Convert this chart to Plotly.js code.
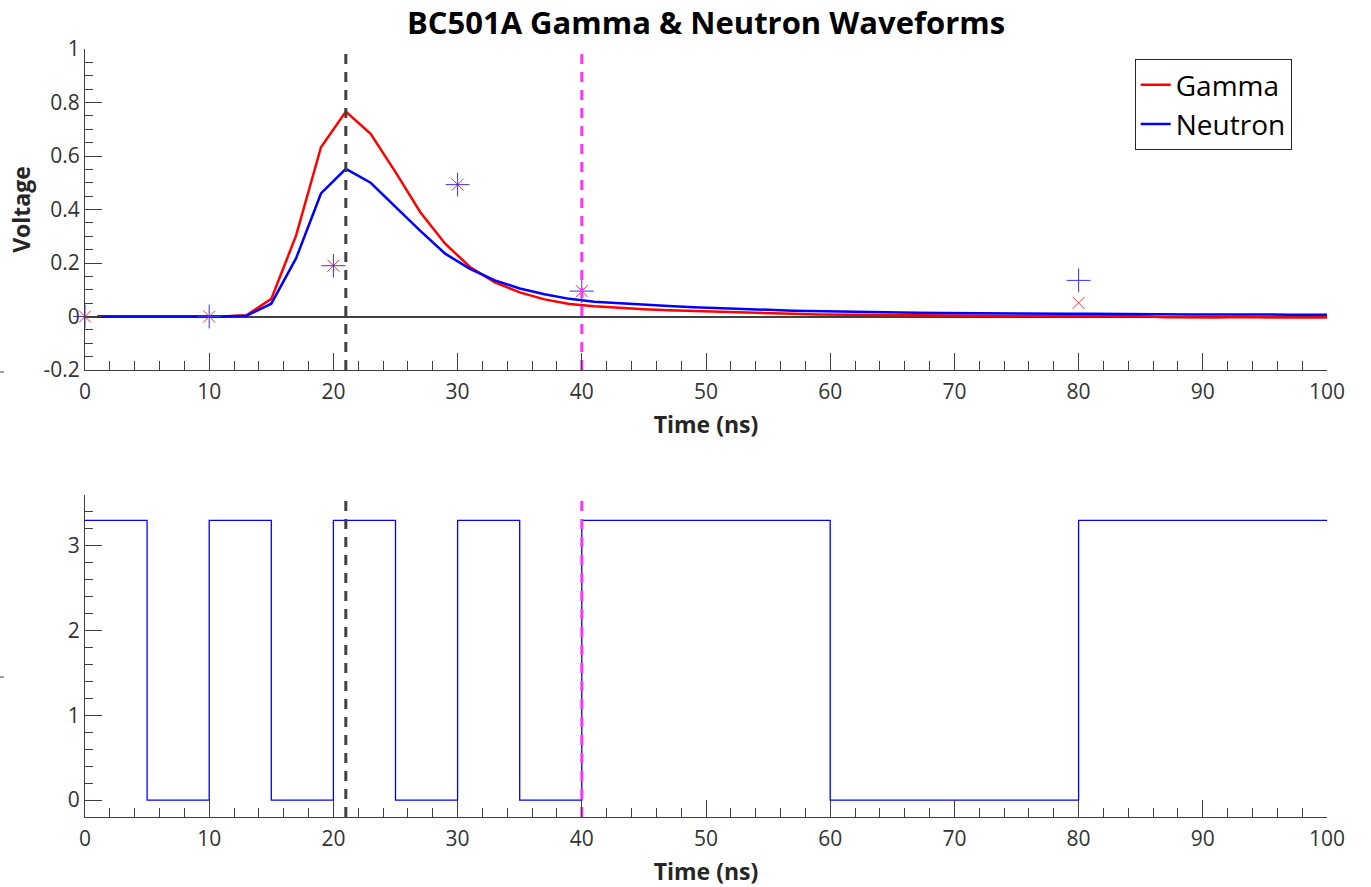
<!DOCTYPE html>
<html>
<head>
<meta charset="utf-8">
<script src="https://cdn.plot.ly/plotly-3.0.1.min.js"></script>
<style>
html, body { margin: 0; padding: 0; background: #ffffff; }
#chart { width: 1371px; height: 887px; }
</style>
</head>
<body>
<div id="chart"></div>
<script>
// ---- Data ----
const sampleTimes = [1,3,5,7,9,11,13,15,17,19,21,23,25,27,29,31,33,35,37,39,41,43,45,47,49,51,53,55,57,59,61,63,65,67,69,71,73,75,77,79,81,83,85,87,89,91,93,95,97,99,100];
const gammaVoltage = [0,0,0,0,0,0,0.005,0.066,0.303,0.633,0.766,0.683,0.54,0.39,0.272,0.185,0.128,0.09,0.064,0.047,0.038,0.032,0.027,0.023,0.02,0.017,0.015,0.012,0.01,0.008,0.007,0.006,0.005,0.005,0.004,0.003,0.003,0.002,0.002,0.002,0.002,0.001,0.001,-0.003,-0.004,-0.004,-0.002,-0.004,-0.004,-0.004,-0.004];
const neutronVoltage = [0,0,0,0,0,0,0.003,0.048,0.218,0.46,0.552,0.50,0.41,0.32,0.235,0.178,0.135,0.105,0.083,0.066,0.055,0.049,0.044,0.039,0.035,0.031,0.028,0.025,0.022,0.02,0.018,0.016,0.015,0.014,0.013,0.012,0.012,0.011,0.011,0.01,0.01,0.009,0.009,0.008,0.008,0.008,0.007,0.007,0.007,0.007,0.007];

const sampleMarkerTimes = [0,10,20,30,40,80];
const gammaMarkerVoltage = [0,0,0.19,0.493,0.095,0.051];
const neutronMarkerVoltage = [0,0,0.19,0.493,0.095,0.135];

const peakTime = 21;
const triggerTime = 40;

const logicTimes = [0,5,10,15,20,25,30,35,40,60,80,100];
const logicLevels = [3.3,0,3.3,0,3.3,0,3.3,0,3.3,0,3.3,3.3];

const seriesNames = ['Gamma','Neutron'];
const topYTicks = [-0.2,0,0.2,0.4,0.6,0.8,1];
const topYTickText = ['-0.2','0','0.2','0.4','0.6','0.8','1'];
const xTicks = [0,10,20,30,40,50,60,70,80,90,100];
const bottomYTicks = [0,1,2,3];

// ---- Styling ----
const axisColor = '#404040';
const topYRange = [-0.2, 1];
const bottomYRange = [-0.2, 3.6];
const font = 'Open Sans, Noto Sans, sans-serif';

const traces = [
  {x: sampleTimes, y: gammaVoltage, type: 'scatter', mode: 'lines', name: seriesNames[0],
   line: {color: '#ff0000', width: 2.5}, xaxis: 'x', yaxis: 'y'},
  {x: sampleTimes, y: neutronVoltage, type: 'scatter', mode: 'lines', name: seriesNames[1],
   line: {color: '#0000ff', width: 2.5}, xaxis: 'x', yaxis: 'y'},
  {x: sampleMarkerTimes, y: gammaMarkerVoltage, type: 'scatter', mode: 'markers', showlegend: false,
   marker: {symbol: 'x-thin-open', size: 12, color: '#ff3333', line: {color: '#ff3333', width: 1}}, xaxis: 'x', yaxis: 'y', cliponaxis: false},
  {x: sampleMarkerTimes, y: neutronMarkerVoltage, type: 'scatter', mode: 'markers', showlegend: false,
   marker: {symbol: 'cross-thin-open', size: 17, color: '#3333ff', line: {color: '#3333ff', width: 1}}, xaxis: 'x', yaxis: 'y', cliponaxis: false},
  {x: [peakTime, peakTime], y: topYRange, type: 'scatter', mode: 'lines', showlegend: false,
   line: {color: axisColor, width: 3, dash: '10px,8px'}, xaxis: 'x', yaxis: 'y'},
  {x: [triggerTime, triggerTime], y: topYRange, type: 'scatter', mode: 'lines', showlegend: false,
   line: {color: '#ff33ff', width: 3, dash: '10px,8px'}, xaxis: 'x', yaxis: 'y'},
  {x: logicTimes, y: logicLevels, type: 'scatter', mode: 'lines', showlegend: false,
   line: {color: '#0000ff', width: 1.3, shape: 'hv'}, xaxis: 'x2', yaxis: 'y2'},
  {x: [peakTime, peakTime], y: bottomYRange, type: 'scatter', mode: 'lines', showlegend: false,
   line: {color: axisColor, width: 3, dash: '10px,8px'}, xaxis: 'x2', yaxis: 'y2'},
  {x: [triggerTime, triggerTime], y: bottomYRange, type: 'scatter', mode: 'lines', showlegend: false,
   line: {color: '#ff33ff', width: 3, dash: '10px,8px'}, xaxis: 'x2', yaxis: 'y2'}
];

function xAxis(anchor) {
  return {
    anchor: anchor, range: [0, 100], tickvals: xTicks, ticktext: xTicks.map(String),
    showline: true, linecolor: axisColor, linewidth: 1, mirror: false,
    ticks: 'inside', ticklen: 17, tickwidth: 1, tickcolor: axisColor,
    minor: {ticks: 'inside', ticklen: 9, dtick: 2, tick0: 0, tickcolor: axisColor, tickwidth: 1, showgrid: false},
    showgrid: false, zeroline: false,
    tickfont: {family: font, size: 21, color: '#333333'},
    ticklabelstandoff: 3,
    title: {text: '<b>Time (ns)</b>', font: {family: font, size: 23, color: '#262626'}, standoff: 12}
  };
}

const layout = {
  width: 1371, height: 887,
  paper_bgcolor: '#ffffff', plot_bgcolor: '#ffffff',
  margin: {l: 85, r: 44, t: 49, b: 70},
  font: {family: font},
  title: {text: '<b>BC501A Gamma & Neutron Waveforms</b>', font: {family: font, size: 31, color: '#000000'},
          x: 0.5, xref: 'paper', y: 0.974, yref: 'container', yanchor: 'middle'},
  showlegend: true,
  legend: {x: 0.9716, xanchor: 'right', y: 0.987, yanchor: 'top',
           bgcolor: '#ffffff', bordercolor: '#262626', borderwidth: 1,
           font: {family: font, size: 28, color: '#000000'}},
  xaxis: xAxis('y'),
  xaxis2: xAxis('y2'),
  yaxis: {
    domain: [0.582, 1], range: topYRange, tickvals: topYTicks, ticktext: topYTickText,
    showline: true, linecolor: axisColor, linewidth: 1,
    ticks: 'inside', ticklen: 17, tickwidth: 1, tickcolor: axisColor,
    minor: {ticks: 'inside', ticklen: 8, dtick: 0.05, tick0: 0, tickcolor: axisColor, tickwidth: 1, showgrid: false},
    showgrid: false, zeroline: true, zerolinecolor: axisColor, zerolinewidth: 2,
    tickfont: {family: font, size: 21, color: '#333333'},
    title: {text: '<b>Voltage</b>', font: {family: font, size: 23, color: '#262626'}, standoff: 6}
  },
  yaxis2: {
    domain: [0, 0.4193], range: bottomYRange, tickvals: bottomYTicks, ticktext: bottomYTicks.map(String),
    showline: true, linecolor: axisColor, linewidth: 1,
    ticks: 'inside', ticklen: 17, tickwidth: 1, tickcolor: axisColor,
    minor: {ticks: 'inside', ticklen: 8, dtick: 0.2, tick0: 0, tickcolor: axisColor, tickwidth: 1, showgrid: false},
    showgrid: false, zeroline: false,
    tickfont: {family: font, size: 21, color: '#333333'}
  },
  shapes: [
    {type: 'line', xref: 'paper', yref: 'paper', x0: -85/1242, x1: -81/1242, y0: 445/768, y1: 445/768, line: {color: axisColor, width: 1}},
    {type: 'line', xref: 'paper', yref: 'paper', x0: -85/1242, x1: -81/1242, y0: 140/768, y1: 140/768, line: {color: axisColor, width: 1}}
  ]
};

Plotly.newPlot('chart', traces, layout, {staticPlot: true, displayModeBar: false});
</script>
</body>
</html>
